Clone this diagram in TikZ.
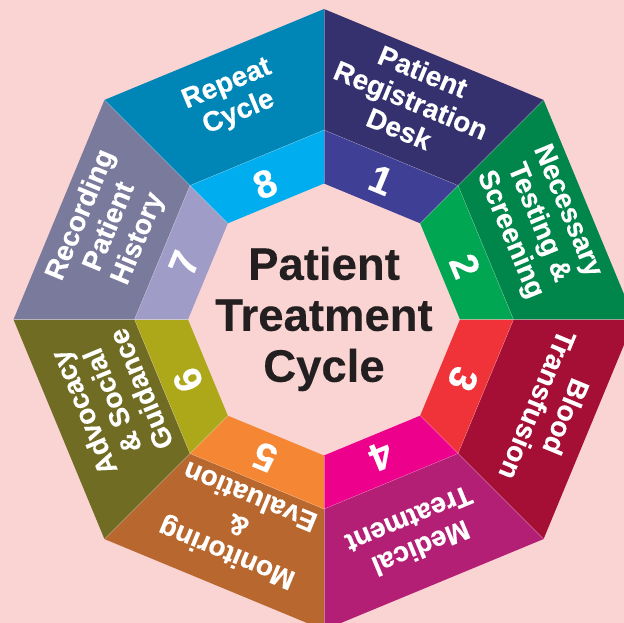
\documentclass[tikz,border=0pt]{standalone}
\usepackage{fontspec}
\setmainfont[BoldFeatures={FakeBold=0.3}]{Liberation Sans}
\definecolor{bgc}{HTML}{FAD4D2}
\definecolor{outerA}{HTML}{35316F}\definecolor{innerA}{HTML}{3F3F95}
\definecolor{outerB}{HTML}{00854A}\definecolor{innerB}{HTML}{00A651}
\definecolor{outerC}{HTML}{A50E35}\definecolor{innerC}{HTML}{EF3338}
\definecolor{outerD}{HTML}{B41F76}\definecolor{innerD}{HTML}{EC008C}
\definecolor{outerE}{HTML}{B8672E}\definecolor{innerE}{HTML}{F58634}
\definecolor{outerF}{HTML}{716C23}\definecolor{innerF}{HTML}{ACA81A}
\definecolor{outerG}{HTML}{7A7A9D}\definecolor{innerG}{HTML}{A09CC8}
\definecolor{outerH}{HTML}{0086B6}\definecolor{innerH}{HTML}{00AEEF}
\definecolor{titlec}{HTML}{231F20}
\tikzset{
  segtext/.style={text=white,font=\bfseries\fontsize{28}{31}\selectfont,align=center,inner sep=0pt},
  numtext/.style={text=white,font=\bfseries\fontsize{39}{39}\selectfont,inner sep=0pt},
  seam/.style={white,opacity=.35,line width=.4pt}
}
\begin{document}
\begin{tikzpicture}[x=1pt,y=-1pt]
\useasboundingbox (0,0) rectangle (624,623);
\fill[bgc] (0,0) rectangle (624,623);
\begin{scope}
\clip (0,0) rectangle (624,623);
\foreach \i/\colo/\coli in {1/outerA/innerA,2/outerB/innerB,3/outerC/innerC,4/outerD/innerD,5/outerE/innerE,6/outerF/innerF,7/outerG/innerG,8/outerH/innerH}{
  \pgfmathsetmacro\aa{90-45*(\i-1)}
  \pgfmathsetmacro\ab{45-45*(\i-1)}
  \coordinate (oa\i) at ({324+310.5*cos(\aa)},{319.5-310.5*sin(\aa)});
  \coordinate (ob\i) at ({324+310.5*cos(\ab)},{319.5-310.5*sin(\ab)});
  \coordinate (ma\i) at ({324+189.5*cos(\aa)},{319.5-189.5*sin(\aa)});
  \coordinate (mb\i) at ({324+189.5*cos(\ab)},{319.5-189.5*sin(\ab)});
  \coordinate (ia\i) at ({324+136*cos(\aa)},{319.5-136*sin(\aa)});
  \coordinate (ib\i) at ({324+136*cos(\ab)},{319.5-136*sin(\ab)});
  \fill[fill=\colo] (oa\i) -- (ob\i) -- (mb\i) -- (ma\i) -- cycle;
  \fill[fill=\coli] (ma\i) -- (mb\i) -- (ib\i) -- (ia\i) -- cycle;
  \draw[seam] (ma\i) -- (mb\i);
  \draw[seam] (oa\i) -- (ia\i);
}
\end{scope}
\node[segtext,rotate=-22.5] (t1) at (411,100) {Patient\\Registration\\Desk};
\node[segtext,rotate=-67.5] (t2) at (538,223) {Necessary\\Testing \&\\Screening};
\node[segtext,rotate=-112.5] (t3) at (552,411) {Blood\\Transfusion};
\node[segtext,rotate=-157.5] (t4) at (415,534) {Medical\\Treatment};
\node[segtext,rotate=157.5] (t5) at (238,526) {Monitoring\\\&\\Evaluation};
\node[segtext,rotate=112.5] (t6) at (112,401) {Advocacy\\\& Social\\Guidance};
\node[segtext,rotate=67.5] (t7) at (110,227) {Recording\\Patient\\History};
\node[segtext,rotate=22.5] (t8) at (233,99) {Repeat\\Cycle};
\node[numtext,rotate=-22.5] (n1) at (381,180) {1};
\node[numtext,rotate=-67.5] (n2) at (465,266) {2};
\node[numtext,rotate=-112.5] (n3) at (463,379) {3};
\node[numtext,rotate=-157.5] (n4) at (381,456) {4};
\node[numtext,rotate=157.5] (n5) at (265,457) {5};
\node[numtext,rotate=112.5] (n6) at (188,380) {6};
\node[numtext,rotate=67.5] (n7) at (184,263) {7};
\node[numtext,rotate=22.5] (n8) at (265,184) {8};
\node[text=titlec,font=\bfseries\fontsize{45.5}{51}\selectfont,align=center,inner sep=0pt] (title) at (324,319) {Patient\\Treatment\\Cycle};
\end{tikzpicture}
\end{document}
